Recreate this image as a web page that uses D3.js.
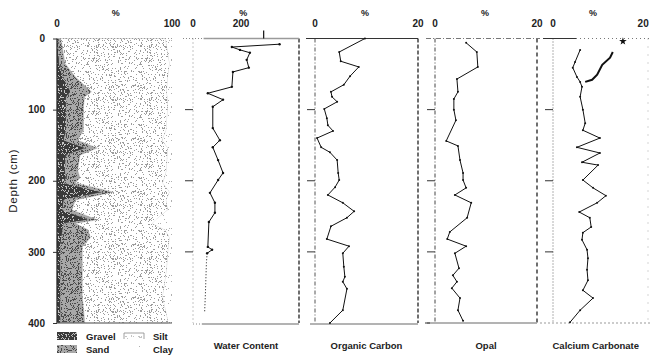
<!DOCTYPE html>
<html>
<head>
<meta charset="utf-8">
<script src="https://cdn.jsdelivr.net/npm/d3@7"></script>
<style>
    body { margin: 0; background: #fff; }
    svg { display: block; font-family: "Liberation Sans", Arial, sans-serif; }
</style>
</head>
<body>
<svg id="chart" width="650" height="357"></svg>
<script>
// grain size composition (%)
const grainDepth = [0, 6, 35, 54, 75, 82, 96, 129, 143, 154, 164, 185, 196, 203, 216, 227, 241, 255, 260, 269, 280, 293, 325, 363, 396, 400];
const gravel = [1, 1, 2, 5, 12, 8, 8, 8, 6, 25, 8, 7, 8, 6, 40, 6, 5, 28, 6, 5, 4, 3, 3, 3, 3, 3];
const sand = [2, 3, 5, 11, 18, 16, 15, 15, 12, 10, 12, 11, 12, 10, 9, 10, 8, 7, 10, 22, 25, 19, 19, 19, 21, 21];
const silt = [91, 91, 91, 80.5, 65.5, 72, 73.5, 72, 73.5, 61.5, 76, 77.5, 73.5, 76, 49, 79, 83.5, 51, 67, 67, 69, 75, 73.5, 70, 72.5, 72.5];
const clay = [6, 5, 2, 3.5, 4.5, 4, 3.5, 5, 8.5, 3.5, 4, 4.5, 6.5, 8, 2, 5, 3.5, 14, 17, 6, 2, 3, 4.5, 8, 3.5, 3.5];
const grainKeys = ['gravel', 'sand', 'silt', 'clay'];

// water content (%)
const waterDepth = [8, 12, 16, 20, 30, 41, 47, 68, 77, 86, 96, 126, 143, 153, 171, 189, 199, 217, 231, 245, 258, 293, 297, 302];
const waterContent = [245, 110, 133, 161, 152, 158, 113, 110, 42, 85, 56, 56, 76, 56, 71, 85, 71, 48, 62, 62, 45, 42, 54, 40];
const waterTailDepth = [302, 315, 330, 345, 360, 372, 384];
const waterTail = [40, 38, 37, 36, 35, 34, 33];

// organic carbon (%)
const orgDepth = [0, 19, 32, 40, 53, 65, 75, 82, 89, 99, 112, 122, 130, 140, 153, 160, 171, 189, 199, 209, 220, 231, 243, 252, 264, 282, 292, 302, 321, 335, 342, 352, 382, 400];
const orgCarbon = [9.7, 4.7, 5.0, 8.5, 6.8, 5.6, 3.1, 3.3, 4.3, 1.8, 2.3, 2.5, 3.5, 0.4, 1.2, 2.9, 4.3, 4.5, 4.7, 3.9, 2.5, 5.4, 7.6, 6.2, 3.1, 2.3, 6.6, 5.4, 5.6, 5.8, 5.4, 6.2, 5.4, 2.9];

// opal (%)
const opalDepth = [6, 19, 40, 57, 75, 85, 100, 115, 144, 151, 171, 189, 199, 210, 220, 231, 252, 272, 282, 292, 302, 323, 333, 342, 351, 365, 382, 397];
const opal = [6.1, 8.2, 8.4, 4.3, 4.5, 3.7, 3.7, 4.1, 2.2, 4.5, 4.9, 5.5, 5.5, 6.1, 3.9, 7.1, 6.3, 2.9, 2.4, 6.1, 3.9, 4.7, 3.5, 4.3, 3.3, 4.9, 4.5, 5.5];

// calcium carbonate (%)
const caDepth = [16, 33, 41, 54, 61, 68, 82, 100, 119, 129, 140, 153, 161, 174, 178, 199, 210, 221, 231, 244, 252, 265, 273, 283, 297, 309, 325, 340, 354, 365, 382, 399];
const calcium = [5.9, 4.8, 4.3, 5.2, 5.9, 6.3, 5.9, 6.5, 7.0, 6.5, 10.2, 5.2, 10.2, 6.3, 9.8, 6.5, 8.7, 11.5, 9.6, 5.7, 8.0, 8.3, 6.5, 6.3, 7.4, 7.6, 7.4, 7.6, 6.5, 8.7, 5.9, 3.7];
const caUpperDepth = [19, 27, 37, 51, 58, 61];
const calciumUpper = [13.0, 12.4, 10.7, 9.6, 8.5, 7.0];
const caStarDepth = [4];
const caStar = [15.2];

const depthTicks = [0, 100, 200, 300, 400];
const innerTicks = [100, 200, 300];

const svg = d3.select('#chart');
const defs = svg.append('defs');
const y = d3.scaleLinear().domain([0, 400]).range([38.5, 323]);

const xGrain = d3.scaleLinear().domain([0, 100]).range([57, 172]);
const xWater = d3.scaleLinear().domain([0, 300]).range([193, 299]);
const xOrg = d3.scaleLinear().domain([0, 20]).range([315, 418]);
const xOpal = d3.scaleLinear().domain([0, 20]).range([435, 537]);
const xCa = d3.scaleLinear().domain([0, 20]).range([553, 645]);

// stipple textures for the grain panel (fixed seed, texture only)
function lcg(seed) {
    let s = seed;
    return () => (s = (s * 1664525 + 1013904223) % 4294967296) / 4294967296;
}
function stipple(id, size, count, dot, bg, seed) {
    const p = defs.append('pattern').attr('id', id)
        .attr('width', size).attr('height', size)
        .attr('patternUnits', 'userSpaceOnUse');
    p.append('rect').attr('width', size).attr('height', size).attr('fill', bg);
    const r = lcg(seed);
    for (let i = 0; i < count; i++) {
        p.append('rect')
            .attr('x', Math.floor(r() * size)).attr('y', Math.floor(r() * size))
            .attr('width', 1).attr('height', 1).attr('fill', dot);
    }
}
stipple('p-gravel', 37, 260, '#c4c4c4', '#3a3a3a', 11);
stipple('p-sand', 41, 520, '#4a4a4a', '#a8a8a8', 23);
stipple('p-silt', 53, 460, '#9c9c9c', '#fff', 37);
stipple('p-clay', 47, 90, '#b0b0b0', '#fff', 51);

// grain size panel
const rows = grainDepth.map((d, i) => ({ depth: d, gravel: gravel[i], sand: sand[i], silt: silt[i], clay: clay[i] }));
const stacked = d3.stack().keys(grainKeys)(rows);
const grainArea = d3.area()
    .y(d => y(d.data.depth))
    .x0(d => xGrain(d[0]))
    .x1(d => xGrain(d[1]));

svg.append('g').selectAll('path')
    .data(stacked)
    .enter()
    .append('path')
    .attr('d', grainArea)
    .attr('fill', d => 'url(#p-' + d.key + ')')
    .attr('stroke', d => d.key === 'clay' ? 'none' : '#888')
    .attr('stroke-width', 0.3);

svg.append('line').attr('x1', xGrain(0)).attr('x2', xGrain(0)).attr('y1', y(0)).attr('y2', y(400))
    .attr('stroke', '#222').attr('stroke-width', 1.2);
svg.append('line').attr('x1', xGrain(0)).attr('x2', xGrain(100)).attr('y1', y(0)).attr('y2', y(0))
    .attr('stroke', '#999').attr('stroke-dasharray', '1,2');
svg.append('line').attr('x1', xGrain(0)).attr('x2', xGrain(100)).attr('y1', y(400)).attr('y2', y(400))
    .attr('stroke', '#555');

// depth axis
const yAxis = svg.append('g')
    .attr('transform', 'translate(' + xGrain(0) + ',0)')
    .call(d3.axisLeft(y).tickValues(depthTicks).tickSize(4).tickPadding(8));
yAxis.select('.domain').remove();
yAxis.selectAll('text').attr('font-size', 10).attr('font-weight', 'bold').attr('fill', '#222')
    .attr('font-family', '"Liberation Sans", Arial, sans-serif');
yAxis.selectAll('line').attr('stroke', '#333');

svg.append('text')
    .attr('transform', 'translate(17,' + y(200) + ') rotate(-90)')
    .attr('text-anchor', 'middle')
    .attr('font-size', 11.5)
    .attr('letter-spacing', 0.7)
    .attr('fill', '#222')
    .text('Depth (cm)');

// frames of the line panels
function vline(x, color, dash, w) {
    svg.append('line').attr('x1', x).attr('x2', x).attr('y1', y(0)).attr('y2', y(400))
        .attr('stroke', color).attr('stroke-width', w || 1).attr('stroke-dasharray', dash);
}
function hline(x1, x2, yy, color, dash, w) {
    svg.append('line').attr('x1', x1).attr('x2', x2).attr('y1', yy).attr('y2', yy)
        .attr('stroke', color).attr('stroke-width', w || 1).attr('stroke-dasharray', dash);
}
function leftTicks(xs) {
    innerTicks.forEach(t => hline(xs(0) - 8, xs(0), y(t), '#333', null, 1));
}

// water content frame
vline(xWater(0), '#888', '1,3');
vline(xWater(300), '#222', '4,2', 1.3);
hline(xWater(0) - 10, xWater(30), y(0), '#888', '1,2');
hline(xWater(30), xWater(300), y(0), '#9a9a9a', null, 1.6);
hline(xWater(0), xWater(25), y(400) + 1, '#888', '1,2');
hline(xWater(25), xWater(300), y(400) + 1, '#9a9a9a', null, 1.6);
leftTicks(xWater);
svg.append('line').attr('x1', xWater(200)).attr('x2', xWater(200)).attr('y1', y(0) - 8).attr('y2', y(0))
    .attr('stroke', '#111').attr('stroke-width', 1.2);

// organic carbon frame
vline(xOrg(0), '#555', '4,2,1,2');
vline(xOrg(20), '#222', '4,2', 1.3);
hline(xOrg(0) - 9, xOrg(20), y(0), '#333', null, 1);
hline(xOrg(0) - 5, xOrg(20), y(400) + 1, '#9a9a9a', null, 1.6);
leftTicks(xOrg);

// opal frame
vline(xOpal(0), '#444', '4,2,1,2');
vline(xOpal(20), '#222', '4,3', 1.3);
hline(xOpal(0) - 9, xOpal(20) + 3, y(0), '#777', '5,2,1,2');
hline(xOpal(0) - 8, xOpal(20), y(400), '#9a9a9a', null, 1.4);
leftTicks(xOpal);
hline(xOpal(0) - 10, xOpal(0) - 5, y(400), '#333', null, 1);

// calcium carbonate frame
vline(xCa(0), '#666', '1,2');
vline(xCa(20) + 3, '#aaa', '1,7');
hline(xCa(0) - 10, xCa(5), y(0), '#333', null, 1);
hline(xCa(5), 650, y(0), '#777', '1,3');
hline(xCa(0) - 13, 650, y(400), '#999', '2,2', 1.2);
leftTicks(xCa);

// profile lines with small dot markers
function profile(depths, vals, xs, opts) {
    const pts = depths.map((d, i) => [xs(vals[i]), y(d)]);
    svg.append('path')
        .attr('d', d3.line()(pts))
        .attr('fill', 'none')
        .attr('stroke', '#111')
        .attr('stroke-width', opts.width || 1)
        .attr('stroke-dasharray', opts.dash || null);
    if (opts.dots) {
        svg.append('g').selectAll('circle')
            .data(pts)
            .enter()
            .append('circle')
            .attr('cx', d => d[0]).attr('cy', d => d[1])
            .attr('r', opts.dots)
            .attr('fill', '#111');
    }
}
profile(waterDepth, waterContent, xWater, { width: 1, dots: 1.2 });
profile(waterTailDepth, waterTail, xWater, { width: 1, dash: '1,2' });
profile(orgDepth, orgCarbon, xOrg, { width: 1, dots: 1 });
profile(opalDepth, opal, xOpal, { width: 1, dots: 1 });
profile(caDepth, calcium, xCa, { width: 1, dots: 1 });
profile(caUpperDepth, calciumUpper, xCa, { width: 2, dots: 0 });
svg.append('path')
    .attr('d', d3.symbol(d3.symbolStar).size(18)())
    .attr('transform', 'translate(' + xCa(caStar[0]) + ',' + y(caStarDepth[0]) + ')')
    .attr('fill', '#111');

// panel headers
const headers = [
    { xs: xGrain, lo: '0', hi: '100', hiAt: 100, pct: 51 },
    { xs: xWater, lo: '0', hi: '200', hiAt: 136, pct: 142 },
    { xs: xOrg, lo: '0', hi: '20', hiAt: 20, pct: 9.7 },
    { xs: xOpal, lo: '0', hi: '20', hiAt: 20, pct: 9.8 },
    { xs: xCa, lo: '0', hi: '20', hiAt: 19.6, pct: 8.7 }
];
const head = svg.append('g').attr('font-weight', 'bold').attr('text-anchor', 'middle');
headers.forEach(h => {
    const x0 = h.xs.domain()[0];
    head.append('text').attr('x', h.xs(x0)).attr('y', 27).attr('font-size', 10).attr('fill', '#222').text(h.lo);
    head.append('text').attr('x', h.xs(h.hiAt)).attr('y', 27).attr('font-size', 10).attr('fill', '#222').text(h.hi);
    head.append('text').attr('x', h.xs(h.pct)).attr('y', 16).attr('font-size', 9).attr('fill', '#222').text('%');
});

// panel titles
const titles = [
    { text: 'Water Content', x: xWater(150) },
    { text: 'Organic Carbon', x: xOrg(10) },
    { text: 'Opal', x: xOpal(10) },
    { text: 'Calcium Carbonate', x: xCa(9.3) }
];
svg.append('g').selectAll('text')
    .data(titles)
    .enter()
    .append('text')
    .attr('x', d => d.x)
    .attr('y', 349)
    .attr('text-anchor', 'middle')
    .attr('font-size', 9.5)
    .attr('font-weight', 'bold')
    .attr('fill', '#222')
    .text(d => d.text);

// legend
const legend = svg.append('g').attr('font-size', 9.5).attr('font-weight', 'bold').attr('fill', '#222');
legend.append('rect').attr('x', 57).attr('y', 332).attr('width', 20).attr('height', 8).attr('fill', 'url(#p-gravel)');
legend.append('rect').attr('x', 57).attr('y', 345).attr('width', 20).attr('height', 8).attr('fill', 'url(#p-sand)');
legend.append('text').attr('x', 86).attr('y', 340).text('Gravel');
legend.append('text').attr('x', 86).attr('y', 353).text('Sand');
legend.append('path').attr('d', 'M124,339V333H144V339').attr('fill', 'none').attr('stroke', '#888').attr('stroke-width', 0.8);
legend.append('rect').attr('x', 125).attr('y', 334).attr('width', 18).attr('height', 5).attr('fill', 'url(#p-silt)').attr('opacity', 0.6);
legend.append('rect').attr('x', 126).attr('y', 346).attr('width', 18).attr('height', 4).attr('fill', 'url(#p-clay)');
legend.append('text').attr('x', 153).attr('y', 340).text('Silt');
legend.append('text').attr('x', 153).attr('y', 353).text('Clay');
</script>
</body>
</html>
